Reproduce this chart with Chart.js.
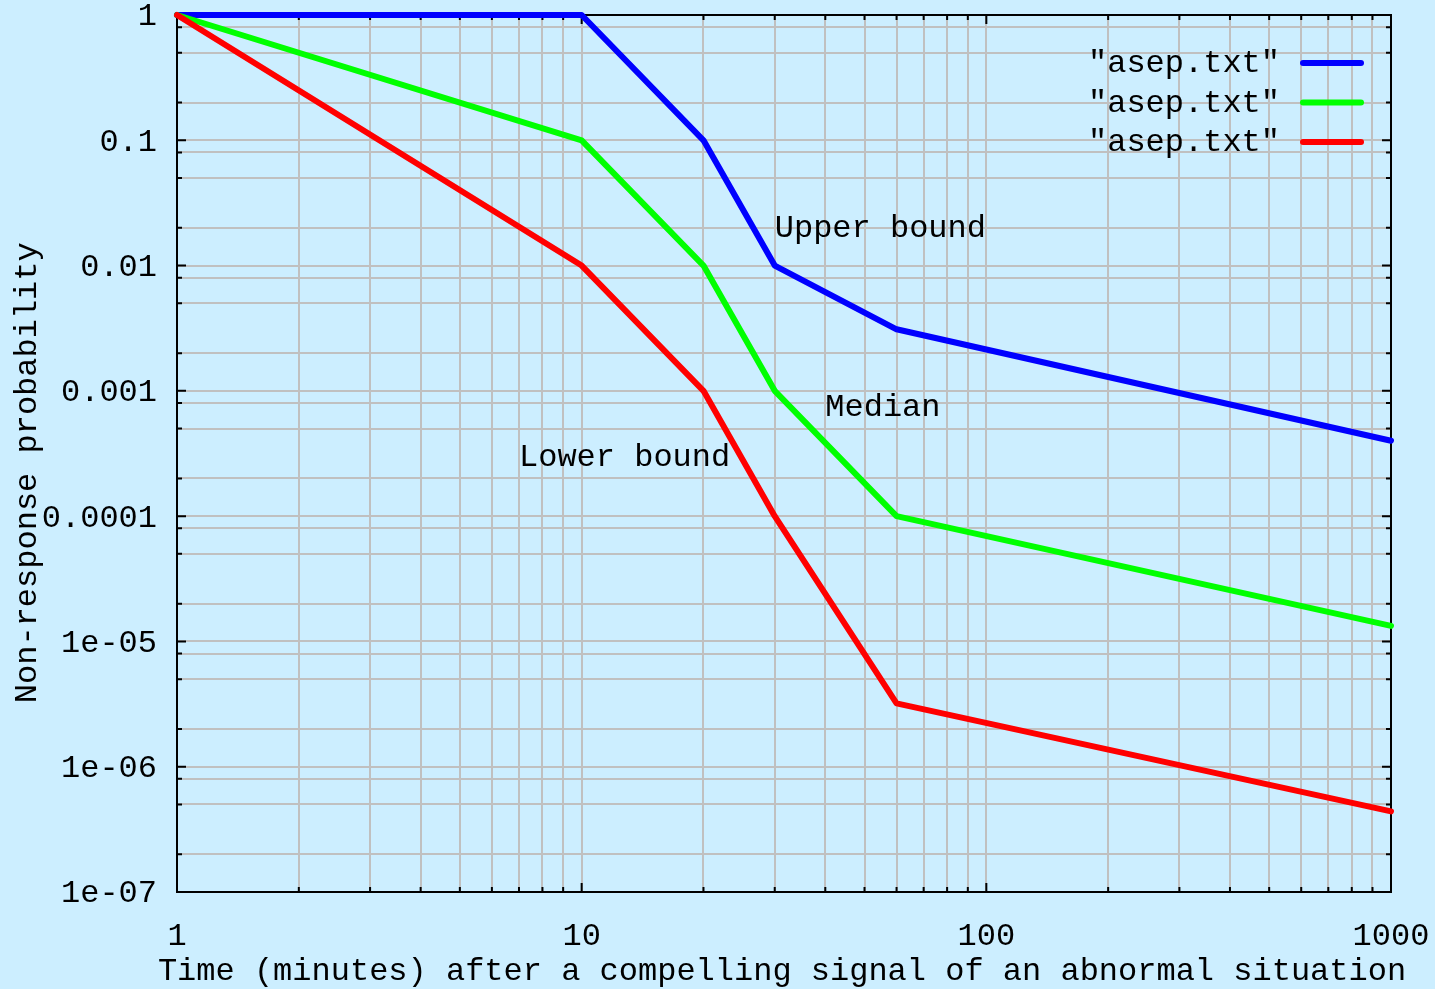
<!DOCTYPE html>
<html>
<head>
<meta charset="utf-8">
<script src="https://cdn.jsdelivr.net/npm/chart.js@4/dist/chart.umd.min.js"></script>
<style>
body { margin: 0; background: #cceeff; }
canvas { display: block; }
</style>
</head>
<body>
<canvas id="asepChart" width="1435" height="989"></canvas>
<script>
// time after signal (minutes) and non-response probability per curve
const times = [1, 10, 20, 30, 60, 1000];
const upperBound = [1, 1, 0.1, 0.01, 0.0031, 0.0004];
const median = [1, 0.1, 0.01, 0.001, 0.0001, 0.0000133];
const lowerBound = [1, 0.01, 0.001, 0.0001, 0.0000032, 0.00000044];

const seriesNames = ['"asep.txt"', '"asep.txt"', '"asep.txt"'];
const seriesColors = ['#0000ff', '#00ff00', '#ff0000'];

const curveNames = ['Upper bound', 'Median', 'Lower bound'];
const curveLabelX = [30, 40, 7];
const curveLabelY = [0.02, 0.00075, 0.0003];

const xTitle = 'Time (minutes) after a compelling signal of an abnormal situation';
const yTitle = 'Non-response probability';

const xTickValues = [1, 2, 3, 4, 5, 6, 7, 8, 9,
    10, 20, 30, 40, 50, 60, 70, 80, 90,
    100, 200, 300, 400, 500, 600, 700, 800, 900, 1000];
const xMajor = [1, 10, 100, 1000];
const xTickLabels = ['1', '10', '100', '1000'];

const yTickValues = [1e-7, 2e-7, 5e-7, 8e-7, 1e-6, 2e-6, 5e-6, 8e-6,
    1e-5, 2e-5, 5e-5, 8e-5, 1e-4, 2e-4, 5e-4, 8e-4,
    0.001, 0.002, 0.005, 0.008, 0.01, 0.02, 0.05, 0.08,
    0.1, 0.2, 0.5, 0.8, 1];
const yMajor = [1e-7, 1e-6, 1e-5, 1e-4, 0.001, 0.01, 0.1, 1];
const yTickLabels = ['1e-07', '1e-06', '1e-05', '0.0001', '0.001', '0.01', '0.1', '1'];

const FONT = '"Liberation Mono", "Courier New", monospace';
const FONT_SIZE = 32;

function labelFor(value, majors, labels) {
    const i = majors.findIndex(m => Math.abs(m - value) / m < 1e-9);
    return i >= 0 ? labels[i] : '';
}

function isMajor(v) {
    const l = Math.log10(v);
    return Math.abs(l - Math.round(l)) < 1e-6;
}

function toPoints(ys) {
    return times.map((t, i) => ({x: t, y: ys[i]}));
}

// keep the plot box where it is, no extra room for overhanging labels
function noPadding(s) {
    s.paddingTop = 0;
    s.paddingBottom = 0;
    s.paddingLeft = 0;
    s.paddingRight = 0;
}

// border + inward tick marks, drawn under the curves
const framePlugin = {
    id: 'frame',
    beforeDatasetsDraw(chart) {
        const {ctx, chartArea: a, scales} = chart;
        ctx.save();
        ctx.strokeStyle = '#000';
        ctx.lineWidth = 2;
        ctx.beginPath();
        scales.x.ticks.forEach(t => {
            const px = scales.x.getPixelForValue(t.value);
            const len = isMajor(t.value) ? 9 : 5;
            ctx.moveTo(px, a.bottom);
            ctx.lineTo(px, a.bottom - len);
            ctx.moveTo(px, a.top);
            ctx.lineTo(px, a.top + len);
        });
        scales.y.ticks.forEach(t => {
            const py = scales.y.getPixelForValue(t.value);
            const len = isMajor(t.value) ? 9 : 5;
            ctx.moveTo(a.left, py);
            ctx.lineTo(a.left + len, py);
            ctx.moveTo(a.right, py);
            ctx.lineTo(a.right - len, py);
        });
        ctx.stroke();
        ctx.strokeRect(a.left, a.top, a.right - a.left, a.bottom - a.top);
        ctx.restore();
    }
};

// key at top right (text left of sample line), curve captions, x title
const textPlugin = {
    id: 'texts',
    afterDatasetsDraw(chart) {
        const {ctx, scales, chartArea: a} = chart;
        ctx.save();
        ctx.font = FONT_SIZE + 'px ' + FONT;
        ctx.fillStyle = '#000';
        ctx.textBaseline = 'middle';

        seriesNames.forEach((name, i) => {
            const y = 63 + i * 39.5;
            ctx.textAlign = 'right';
            ctx.fillText(name, 1280, y + 1);
            ctx.strokeStyle = seriesColors[i];
            ctx.lineWidth = 6;
            ctx.lineCap = 'round';
            ctx.beginPath();
            ctx.moveTo(1303, y);
            ctx.lineTo(1361, y);
            ctx.stroke();
        });

        ctx.textAlign = 'left';
        curveNames.forEach((name, i) => {
            ctx.fillText(name,
                scales.x.getPixelForValue(curveLabelX[i]),
                scales.y.getPixelForValue(curveLabelY[i]) + 1);
        });

        // axis title is wider than the plot box, Chart.js would squeeze it
        ctx.textAlign = 'center';
        ctx.fillText(xTitle, (a.left + a.right) / 2 - 2, 972);
        ctx.restore();
    }
};

const ySeries = [upperBound, median, lowerBound];

const data = {
    datasets: ySeries.map((ys, i) => ({
        label: seriesNames[i],
        data: toPoints(ys),
        borderColor: seriesColors[i],
        backgroundColor: seriesColors[i],
        borderWidth: 6,
        borderCapStyle: 'round',
        borderJoinStyle: 'round',
        pointRadius: 0,
        tension: 0,
        clip: false,
        order: 3 - i
    }))
};

const config = {
    type: 'line',
    data: data,
    options: {
        responsive: false,
        animation: false,
        layout: {
            padding: {top: 15, right: 44, bottom: 0, left: 0}
        },
        scales: {
            x: {
                type: 'logarithmic',
                min: 1,
                max: 1000,
                afterBuildTicks: s => { s.ticks = xTickValues.map(v => ({value: v})); },
                afterFit: s => { s.height = 97; noPadding(s); },
                grid: {color: '#c0c0c0', lineWidth: 2, drawTicks: false},
                border: {display: false},
                ticks: {
                    autoSkip: false,
                    maxRotation: 0,
                    padding: 25,
                    color: '#000',
                    font: {family: FONT, size: FONT_SIZE, lineHeight: 1.2},
                    callback: v => labelFor(v, xMajor, xTickLabels)
                }
            },
            y: {
                type: 'logarithmic',
                min: 1e-7,
                max: 1,
                afterBuildTicks: s => { s.ticks = yTickValues.map(v => ({value: v})); },
                afterFit: s => { s.width = 177; noPadding(s); },
                grid: {color: '#c0c0c0', lineWidth: 2, drawTicks: false},
                border: {display: false},
                ticks: {
                    autoSkip: false,
                    padding: 20,
                    labelOffset: 2,
                    color: '#000',
                    font: {family: FONT, size: FONT_SIZE, lineHeight: 0.9},
                    callback: v => labelFor(v, yMajor, yTickLabels)
                },
                title: {
                    display: true,
                    text: yTitle + '  ',
                    color: '#000',
                    font: {family: FONT, size: FONT_SIZE, lineHeight: 1.1},
                    padding: {top: 10, bottom: 0}
                }
            }
        },
        plugins: {
            legend: {display: false},
            tooltip: {enabled: false}
        }
    },
    plugins: [framePlugin, textPlugin]
};

const asepChart = new Chart(document.getElementById('asepChart'), config);
</script>
</body>
</html>
